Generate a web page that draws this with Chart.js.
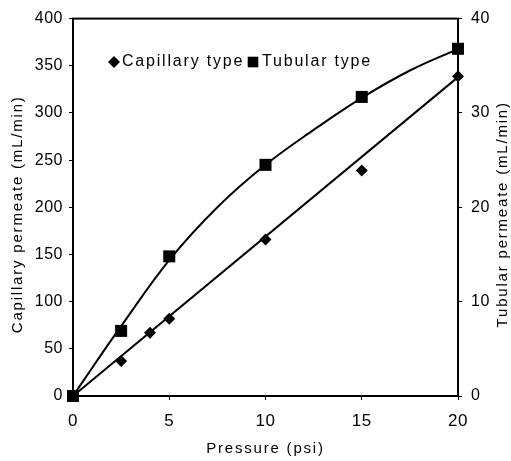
<!DOCTYPE html>
<html>
<head>
<meta charset="utf-8">
<title>Capillary vs tubular permeate</title>
<script src="https://cdn.jsdelivr.net/npm/chart.js@4.4.1/dist/chart.umd.min.js"></script>
<style>
  html, body { margin: 0; padding: 0; background: #fff; }
  #wrap { width: 511px; height: 461px; }
</style>
</head>
<body>
<div id="wrap"><canvas id="chart" width="511" height="461"></canvas></div>
<script>
// measured points
const capPressure = [0, 2.5, 4, 5, 10, 15, 20];
const capillary = [0, 37, 67, 82, 166, 239, 339];          // mL/min, left axis
const tubPressure = [0, 2.5, 5, 10, 15, 20];
const tubular = [0, 6.9, 14.8, 24.5, 31.7, 36.8];          // mL/min, right axis

// fitted lines
const capFitX = [0, 20];
const capFit = [0, 338];
const tubFitX = [0, 1, 2.5, 5, 7.5, 10, 12.5, 15, 17.5, 20];
const tubFit = [0, 3.0, 7.4, 14.4, 20, 24.5, 28.2, 31.6, 34.5, 36.8];

const xTicks = [0, 5, 10, 15, 20];
const leftTicks = [0, 50, 100, 150, 200, 250, 300, 350, 400];
const rightTicks = [0, 10, 20, 30, 40];

const FONT = '"Liberation Sans", Arial, sans-serif';

function pts(xs, ys){ return xs.map((x, i) => ({ x: x, y: ys[i] })); }

// legend, frame and axis titles drawn on top
const extras = {
  id: 'extras',
  beforeDraw(chart){ chart.ctx.letterSpacing = '0.5px'; },
  afterDraw(chart){
    const ctx = chart.ctx;
    const a = chart.chartArea;
    ctx.save();
    ctx.strokeStyle = '#000';
    ctx.lineWidth = 2;
    ctx.strokeRect(a.left, a.top, a.right - a.left, a.bottom - a.top);

    ctx.fillStyle = '#000';
    ctx.letterSpacing = '1.8px';
    ctx.font = '16px ' + FONT;
    ctx.textBaseline = 'middle';
    ctx.textAlign = 'left';
    // legend
    Chart.helpers.drawPoint(ctx, { pointStyle: 'rectRot', radius: 6, borderWidth: 0 }, 114, 62);
    ctx.fillText('Capillary type', 122, 62);
    Chart.helpers.drawPoint(ctx, { pointStyle: 'rect', radius: 7.5, borderWidth: 0 }, 253, 62);
    ctx.fillText('Tubular type', 262, 62);

    // x title
    ctx.textAlign = 'center';
    ctx.font = '15px ' + FONT;
    ctx.fillText('Pressure (psi)', (a.left + a.right) / 2, 449);

    // left & right titles, both reading upwards
    const cy = (a.top + a.bottom) / 2 + 7;
    [[18, 'Capillary permeate (mL/min)'], [503, 'Tubular permeate (mL/min)']].forEach(([x, t]) => {
      ctx.save();
      ctx.translate(x, cy);
      ctx.rotate(-Math.PI / 2);
      ctx.fillText(t, 0, 0);
      ctx.restore();
    });
    ctx.restore();
  }
};

function fixedTicks(values){
  return function(scale){ scale.ticks = values.map(v => ({ value: v })); };
}

new Chart(document.getElementById('chart'), {
  type: 'scatter',
  data: {
    datasets: [
      { label: 'cap fit', data: pts(capFitX, capFit), showLine: true, pointRadius: 0,
        borderColor: '#000', borderWidth: 2, yAxisID: 'y' },
      { label: 'tub fit', data: pts(tubFitX, tubFit), showLine: true, pointRadius: 0,
        borderColor: '#000', borderWidth: 2, tension: 0.4, yAxisID: 'y2' },
      { label: 'Capillary type', data: pts(capPressure, capillary), pointStyle: 'rectRot',
        pointRadius: 6, backgroundColor: '#000', borderColor: '#000', borderWidth: 0,
        clip: false, yAxisID: 'y' },
      { label: 'Tubular type', data: pts(tubPressure, tubular), pointStyle: 'rect',
        pointRadius: 8.5, backgroundColor: '#000', borderColor: '#000', borderWidth: 0,
        clip: false, yAxisID: 'y2' }
    ]
  },
  options: {
    responsive: false,
    animation: false,
    layout: { padding: { top: 13, left: 0, right: 0, bottom: 0 } },
    plugins: { legend: { display: false }, tooltip: { enabled: false } },
    scales: {
      x: {
        type: 'linear', min: 0, max: 20,
        afterBuildTicks: fixedTicks(xTicks),
        afterFit(s){ s.height = 65; },
        grid: { drawOnChartArea: false, color: '#000', tickLength: 4 },
        border: { color: '#000', width: 2 },
        ticks: { color: '#000', padding: 11, font: { family: FONT, size: 17 } }
      },
      y: {
        position: 'left', min: 0, max: 400,
        afterBuildTicks: fixedTicks(leftTicks),
        afterFit(s){ s.width = 73; },
        grid: { drawOnChartArea: false, color: '#000', tickLength: 4 },
        border: { color: '#000', width: 2 },
        ticks: { color: '#000', padding: 6, font: { family: FONT, size: 16 } }
      },
      y2: {
        position: 'right', min: 0, max: 40,
        afterBuildTicks: fixedTicks(rightTicks),
        afterFit(s){ s.width = 53; },
        grid: { drawOnChartArea: false, color: '#000', tickLength: 4 },
        border: { color: '#000', width: 2 },
        ticks: { color: '#000', padding: 9, font: { family: FONT, size: 16 } }
      }
    }
  },
  plugins: [extras]
});
</script>
</body>
</html>
